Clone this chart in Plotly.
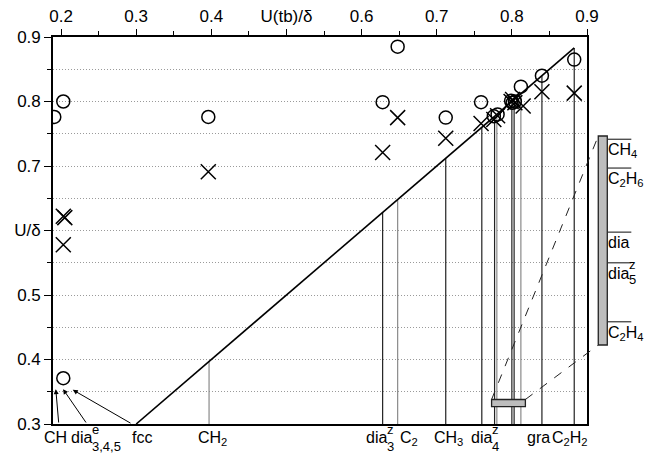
import plotly.graph_objects as go

# ---------------- data ----------------
# vertical reference lines (U(tb)/delta of each system), drawn from diagonal to bottom
sys_x = [0.397, 0.628, 0.648, 0.712, 0.760, 0.777, 0.780, 0.800, 0.803, 0.812, 0.840, 0.883]
sys_gray = [True, False, True, False, False, False, True, False, False, True, False, False]

# open circles
circ_x = [0.191, 0.203, 0.203, 0.396, 0.628, 0.648, 0.712, 0.759, 0.776, 0.781, 0.799, 0.801, 0.804, 0.812, 0.840, 0.883]
circ_y = [0.776, 0.800, 0.371, 0.776, 0.799, 0.885, 0.775, 0.799, 0.777, 0.780, 0.801, 0.798, 0.800, 0.823, 0.840, 0.865]
# crosses
cross_x = [0.203, 0.205, 0.203, 0.396, 0.628, 0.648, 0.712, 0.759, 0.776, 0.781, 0.799, 0.801, 0.804, 0.815, 0.840, 0.883]
cross_y = [0.622, 0.620, 0.578, 0.691, 0.721, 0.775, 0.743, 0.766, 0.772, 0.778, 0.800, 0.803, 0.798, 0.793, 0.815, 0.813]

diag = [0.3, 0.883]

# bottom labels: (main text, sup, sub, left-edge x)
bottom_labels = [
    ("CH", "", "", 0.1774),
    ("dia", "e", "3,4,5", 0.2133),
    ("fcc", "", "", 0.2945),
    ("CH<sub>2</sub>", "", "", 0.3824),
    ("dia", "z", "3", 0.6057),
    ("C<sub>2</sub>", "", "", 0.6514),
    ("CH<sub>3</sub>", "", "", 0.6967),
    ("dia", "z", "4", 0.7459),
    ("gra", "", "", 0.8200),
    ("C<sub>2</sub>H<sub>2</sub>", "", "", 0.8540),
]

# arrows near left axis: (tip x, tip y, tail x, tail y)
arrows = [
    (0.193, 0.354, 0.197, 0.300),
    (0.2027, 0.354, 0.2346, 0.300),
    (0.2156, 0.353, 0.2945, 0.300),
]

# magnifier: small bar range on x axis and its y extent
mag_x = [0.773, 0.818]
mag_y = [0.327, 0.338]
# big bar placement (in axis units, beyond right edge)
big_x = [0.915, 0.927]
big_y = [0.7465, 0.4225]
# inset labels and their magnified positions (U(tb)/delta)
inset_labels = [("CH<sub>4</sub>", "", ""), ("C<sub>2</sub>H<sub>6</sub>", "", ""),
                ("dia", "", ""), ("dia", "z", "5"), ("C<sub>2</sub>H<sub>4</sub>", "", "")]
inset_vals = [0.7737, 0.7799, 0.7937, 0.8003, 0.8130]

x_ticks = [0.2, 0.3, 0.4, 0.5, 0.6, 0.7, 0.8, 0.9]
x_ticktext = ["0.2", "0.3", "0.4", "U(tb)/δ", "0.6", "0.7", "0.8", "0.9"]
y_ticks = [0.3, 0.4, 0.5, 0.6, 0.7, 0.8, 0.9]
y_ticktext = ["0.3", "0.4", "0.5", "U/δ", "0.7", "0.8", "0.9"]

X0, X1 = 0.1893, 0.9
Y0, Y1 = 0.3, 0.9

FONT = "Liberation Sans, Arial, Helvetica, sans-serif"
FS = 17   # tick labels
LS = 16   # text labels
SS = 13   # stacked sup/sub


def px(v):
    return (v - X0) / (X1 - X0)


def py(v):
    return (v - Y0) / (Y1 - Y0)


fig = go.Figure()

# vertical lines
for gray in (False, True):
    xs, ys = [], []
    for xv, g in zip(sys_x, sys_gray):
        if g == gray:
            xs += [xv, xv, None]
            ys += [0.3, xv, None]
    fig.add_trace(go.Scatter(x=xs, y=ys, mode="lines",
                             line=dict(color="#8a8a8a" if gray else "#222", width=1.2),
                             hoverinfo="skip", showlegend=False))

# diagonal
fig.add_trace(go.Scatter(x=diag, y=diag, mode="lines", line=dict(color="black", width=1.6),
                         showlegend=False))

fig.add_trace(go.Scatter(x=circ_x, y=circ_y, mode="markers",
                         marker=dict(symbol="circle-open", size=13, color="black", line=dict(width=1.5)),
                         showlegend=False))
fig.add_trace(go.Scatter(x=cross_x, y=cross_y, mode="markers",
                         marker=dict(symbol="x-thin-open", size=15, color="black", line=dict(width=1.5)),
                         showlegend=False))

shapes = []
# magnifier small bar
shapes.append(dict(type="rect", xref="x", yref="y", x0=mag_x[0], x1=mag_x[1], y0=mag_y[0], y1=mag_y[1],
                   fillcolor="#bdbdbd", line=dict(color="#222", width=1.3), layer="above"))
# big bar
shapes.append(dict(type="rect", xref="paper", yref="paper", x0=px(big_x[0]), x1=px(big_x[1]),
                   y0=py(big_y[1]), y1=py(big_y[0]), fillcolor="#bdbdbd",
                   line=dict(color="#222", width=1.3)))
# dashed connectors
shapes.append(dict(type="line", xref="paper", yref="paper", x0=px(mag_x[0]), y0=py(mag_y[1]),
                   x1=px(big_x[0]), y1=py(big_y[0]), line=dict(color="#222", width=1, dash="dash")))
shapes.append(dict(type="line", xref="paper", yref="paper", x0=px(mag_x[1]), y0=py(mag_y[1]),
                   x1=px(big_x[0]), y1=py(big_y[1]), line=dict(color="#222", width=1, dash="dash")))

annotations = []
for (txt, sup, sub), v in zip(inset_labels, inset_vals):
    yv = big_y[0] + (v - mag_x[0]) / (mag_x[1] - mag_x[0]) * (big_y[1] - big_y[0])
    shapes.append(dict(type="line", xref="paper", yref="paper", x0=px(big_x[1]), x1=px(big_x[1]) + 0.045,
                       y0=py(yv), y1=py(yv), line=dict(color="#333", width=1.2)))
    annotations.append(dict(xref="paper", yref="paper", x=px(big_x[1]), y=py(yv), text=txt,
                            xanchor="left", yanchor="top", showarrow=False, xshift=-1,
                            font=dict(family=FONT, size=LS, color="black")))
    if sup:
        annotations.append(dict(xref="paper", yref="paper", x=px(big_x[1]), y=py(yv), text=sup,
                                xanchor="left", yanchor="middle", showarrow=False, xshift=20, yshift=-2,
                                font=dict(family=FONT, size=SS, color="black")))
    if sub:
        annotations.append(dict(xref="paper", yref="paper", x=px(big_x[1]), y=py(yv), text=sub,
                                xanchor="left", yanchor="middle", showarrow=False, xshift=20, yshift=-17,
                                font=dict(family=FONT, size=SS, color="black")))

for txt, sup, sub, xl in bottom_labels:
    annotations.append(dict(xref="paper", yref="paper", x=px(xl), y=0, text=txt, xanchor="left",
                            yanchor="top", showarrow=False, yshift=-3, xshift=-2,
                            font=dict(family=FONT, size=LS, color="black")))
    if sup:
        annotations.append(dict(xref="paper", yref="paper", x=px(xl), y=0, text=sup, xanchor="left",
                                yanchor="middle", showarrow=False, yshift=-5, xshift=19,
                                font=dict(family=FONT, size=SS, color="black")))
    if sub:
        annotations.append(dict(xref="paper", yref="paper", x=px(xl), y=0, text=sub, xanchor="left",
                                yanchor="middle", showarrow=False, yshift=-22, xshift=19,
                                font=dict(family=FONT, size=SS, color="black")))

for tx, ty, ax, ay in arrows:
    annotations.append(dict(xref="x", yref="y", x=tx, y=ty, axref="x", ayref="y", ax=ax, ay=ay,
                            text="", showarrow=True, arrowhead=2, arrowsize=1, arrowwidth=1,
                            arrowcolor="black"))

# the page body adds an 8px offset; margins compensate so the plot sits where the reference has it
fig.update_layout(
    width=672, height=456,
    margin=dict(l=45, r=93, t=29, b=40),
    paper_bgcolor="white", plot_bgcolor="white",
    font=dict(family=FONT, size=FS, color="black"),
    shapes=shapes, annotations=annotations,
    xaxis=dict(range=[X0, X1], side="top", tickvals=x_ticks, ticktext=x_ticktext, automargin=False,
               ticks="outside", ticklen=6, tickwidth=1.3, tickcolor="black",
               minor=dict(dtick=0.05, tick0=0.2, ticks="outside", ticklen=4, tickcolor="black", tickwidth=1.3),
               showline=True, linecolor="black", linewidth=1.6, mirror=True,
               showgrid=False, zeroline=False, tickfont=dict(size=FS)),
    yaxis=dict(range=[Y0, Y1], tickvals=y_ticks, ticktext=y_ticktext, automargin=False,
               ticks="outside", ticklen=7, tickwidth=1.3, tickcolor="black",
               minor=dict(dtick=0.05, tick0=0.3, ticks="outside", ticklen=4, tickcolor="black", tickwidth=1.3,
                          showgrid=True, gridcolor="#9a9a9a", griddash="1px,2px", gridwidth=1),
               showline=True, linecolor="black", linewidth=1.6, mirror=True,
               showgrid=True, gridcolor="#9a9a9a", griddash="1px,2px", gridwidth=1,
               zeroline=False, tickfont=dict(size=FS)),
)

fig.write_html("out.html")
